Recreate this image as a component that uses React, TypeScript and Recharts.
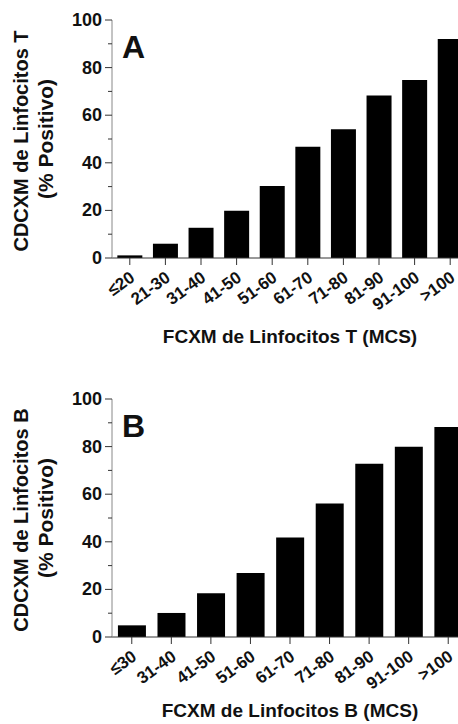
import React from 'react';
import { BarChart, Bar, XAxis, YAxis } from 'recharts';

const tCategories = ['≤20', '21-30', '31-40', '41-50', '51-60', '61-70', '71-80', '81-90', '91-100', '>100'];
const tValues = [1.1, 6.0, 12.7, 19.9, 30.2, 46.7, 54.1, 68.3, 74.8, 92.0];

const bCategories = ['≤30', '31-40', '41-50', '51-60', '61-70', '71-80', '81-90', '91-100', '>100'];
const bValues = [4.9, 10.1, 18.4, 26.9, 41.8, 56.1, 72.8, 79.9, 88.2];

const yTicks = [0, 10, 20, 30, 40, 50, 60, 70, 80, 90, 100];

const FONT = '"Liberation Sans", Arial, Helvetica, sans-serif';
const TICK_SIZE = 7;
const TICK_MARGIN = 3;

function YTick(props: any) {
  const { x, y, payload } = props;
  const major = payload.value % 20 === 0;
  const ax = x + TICK_SIZE + TICK_MARGIN;
  return (
    <g>
      <line x1={ax} x2={ax - (major ? TICK_SIZE : 4)} y1={y} y2={y} stroke="#333" strokeWidth={1} />
      {major && (
        <text x={x} y={y} dy={6} textAnchor="end" fill="#111" fontSize={18} fontWeight="bold" fontFamily={FONT}>
          {payload.value}
        </text>
      )}
    </g>
  );
}

function XTick(props: any) {
  const { x, y, payload } = props;
  return (
    <text
      transform={`translate(${x + 6},${y + 13}) rotate(-36)`}
      textAnchor="end"
      fill="#111"
      fontSize={17}
      fontWeight="bold"
      fontFamily={FONT}
    >
      {payload.value}
    </text>
  );
}

function Panel({ categories, values, letter, cell, title, height, top }: {
  categories: string[];
  values: number[];
  letter: string;
  cell: string;
  title: string;
  height: number;
  top: number;
}) {
  const data = categories.map((name, i) => ({ name, value: values[i] }));
  const xHeight = height - 20 - 238;
  return (
    <div style={{ position: 'absolute', left: 0, top }}>
      <BarChart
        width={470}
        height={height}
        data={data}
        margin={{ top: 20, right: 2, bottom: 0, left: 0 }}
        barCategoryGap="15%"
      >
        <XAxis
          dataKey="name"
          height={xHeight}
          interval={0}
          tickSize={TICK_SIZE}
          tickMargin={2}
          stroke="#333"
          tick={<XTick />}
          label={{
            content: ({ viewBox }: any) => (
              <text
                x={viewBox.x + viewBox.width / 2}
                y={viewBox.y + viewBox.height - 7}
                textAnchor="middle"
                fill="#111"
                fontSize={19}
                fontWeight="bold"
                fontFamily={FONT}
              >
                {title}
              </text>
            ),
          }}
        />
        <YAxis
          width={112}
          domain={[0, 100]}
          ticks={yTicks}
          interval={0}
          tickLine={false}
          tickSize={TICK_SIZE}
          tickMargin={TICK_MARGIN}
          stroke="#888"
          tick={<YTick />}
          label={{
            content: ({ viewBox }: any) => {
              const cy = viewBox.y + viewBox.height / 2;
              return (
                <g fontFamily={FONT} fontWeight="bold" fill="#111">
                  <text transform={`translate(${viewBox.x + 28},${cy + 2}) rotate(-90)`} textAnchor="middle" fontSize={20}>
                    CDCXM de Linfocitos {cell}
                  </text>
                  <text transform={`translate(${viewBox.x + 53},${cy}) rotate(-90)`} textAnchor="middle" fontSize={21}>
                    (% Positivo)
                  </text>
                  <text x={viewBox.x + viewBox.width + 10} y={viewBox.y + 38} fontSize={32}>
                    {letter}
                  </text>
                </g>
              );
            },
          }}
        />
        <Bar dataKey="value" fill="#000" isAnimationActive={false} />
      </BarChart>
    </div>
  );
}

export default function App() {
  return (
    <div
      style={{
        position: 'fixed',
        left: 0,
        top: 0,
        width: 458,
        height: 724,
        overflow: 'hidden',
        background: '#fff',
      }}
    >
      <Panel
        categories={tCategories}
        values={tValues}
        letter="A"
        cell="T"
        title="FCXM de Linfocitos T (MCS)"
        height={350}
        top={0}
      />
      <Panel
        categories={bCategories}
        values={bValues}
        letter="B"
        cell="B"
        title="FCXM de Linfocitos B (MCS)"
        height={345}
        top={379}
      />
    </div>
  );
}
